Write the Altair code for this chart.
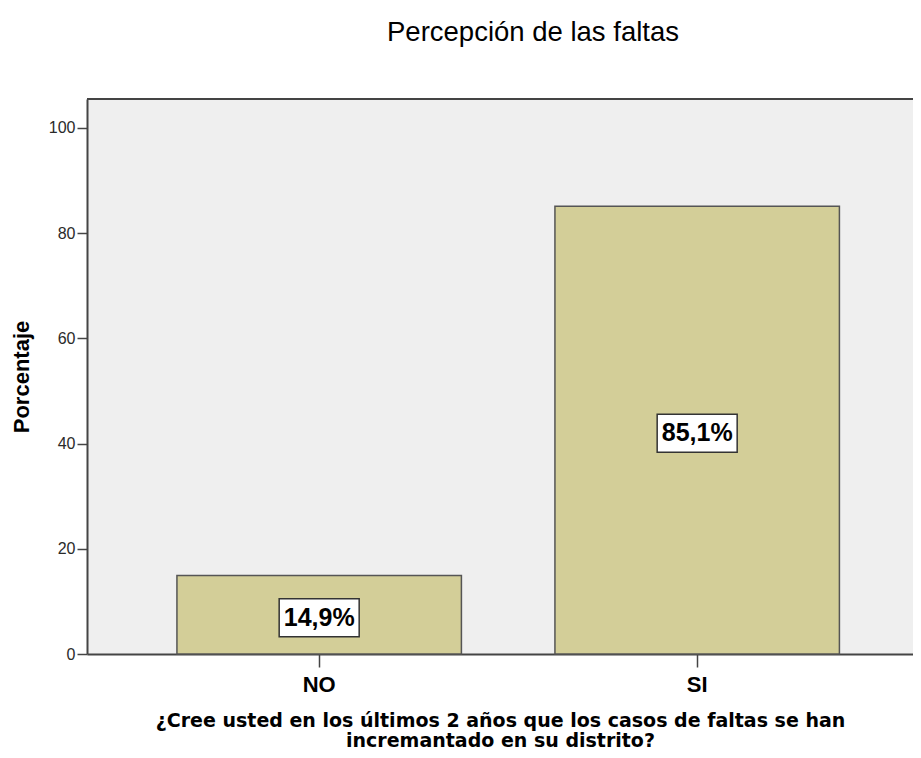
import altair as alt
import pandas as pd

categories = ["NO", "SI"]
percentages = [14.9, 85.1]
labels = ["14,9%", "85,1%"]
y_ticks = [0, 20, 40, 60, 80, 100]

df = pd.DataFrame({"cat": categories, "pct": percentages, "label": labels})

x_scale = alt.Scale(domain=categories, paddingInner=0.2474, paddingOuter=0.2163, align=0.55)
y_scale = alt.Scale(domain=[0, 105.5], nice=False)

x_axis = alt.Axis(
    labelAngle=0, tickSize=13, labelPadding=7, labelFontSize=22,
    labelFont="Liberation Sans", labelFontWeight="bold", labelColor="black",
    domainColor="#444444", domainWidth=2, tickColor="#444444", tickWidth=1.5,
    title=["¿Cree usted en los últimos 2 años que los casos de faltas se han",
           "incremantado en su distrito?"],
    titleFont="DejaVu Sans", titleFontSize=19, titleFontWeight="bold",
    titleLineHeight=20, titlePadding=16, titleColor="black",
)
y_axis = alt.Axis(
    values=y_ticks, tickSize=10, labelPadding=2, labelFontSize=16,
    labelFont="Liberation Sans", labelColor="#2a2a2a", labelFlush=False,
    domainColor="#444444", domainWidth=2, tickColor="#444444", tickWidth=1.5,
    grid=False, title="Porcentaje", titleFont="Liberation Sans",
    titleFontSize=22, titleFontWeight="bold", titlePadding=15, titleColor="black",
)

base = alt.Chart(df)

bars = base.mark_bar(fill="#D3CE98", stroke="#555555", strokeWidth=1.5).encode(
    x=alt.X("cat:N", scale=x_scale, axis=x_axis, sort=categories),
    y=alt.Y("pct:Q", scale=y_scale, axis=y_axis),
)

box_path = "M-1,-0.475L1,-0.475L1,0.475L-1,0.475Z"
boxes = base.transform_calculate(mid="datum.pct / 2").mark_point(
    shape=box_path, size=6400, filled=True, fill="white", stroke="#333333",
    strokeWidth=1.5, opacity=1, yOffset=3,
).encode(
    x=alt.X("cat:N", scale=x_scale, sort=categories),
    y=alt.Y("mid:Q", scale=y_scale),
)

texts = base.transform_calculate(mid="datum.pct / 2").mark_text(
    font="Liberation Sans", fontSize=25, fontWeight="bold", color="black",
    baseline="middle", dy=3,
).encode(
    x=alt.X("cat:N", scale=x_scale, sort=categories),
    y=alt.Y("mid:Q", scale=y_scale),
    text="label:N",
)

top_rule = alt.Chart(pd.DataFrame({"a": [0]})).mark_rule(
    color="#444444", strokeWidth=2
).encode(x=alt.value(0), x2=alt.value("width"), y=alt.value(0))

chart = alt.layer(bars, boxes, texts, top_rule).properties(
    width=826,
    height=555,
    autosize=alt.AutoSizeParams(type="none"),
    padding={"left": 79, "top": 91, "right": 0, "bottom": 95},
    title=alt.TitleParams(
        "Percepción de las faltas", font="Liberation Sans", fontSize=27.5,
        fontWeight="normal", color="black", anchor="middle", frame="group",
        offset=52, dx=33,
    ),
).configure_view(strokeWidth=0, fill="#EFEFEF")

chart.save("out.html", embed_options={"renderer": "svg", "actions": False})
